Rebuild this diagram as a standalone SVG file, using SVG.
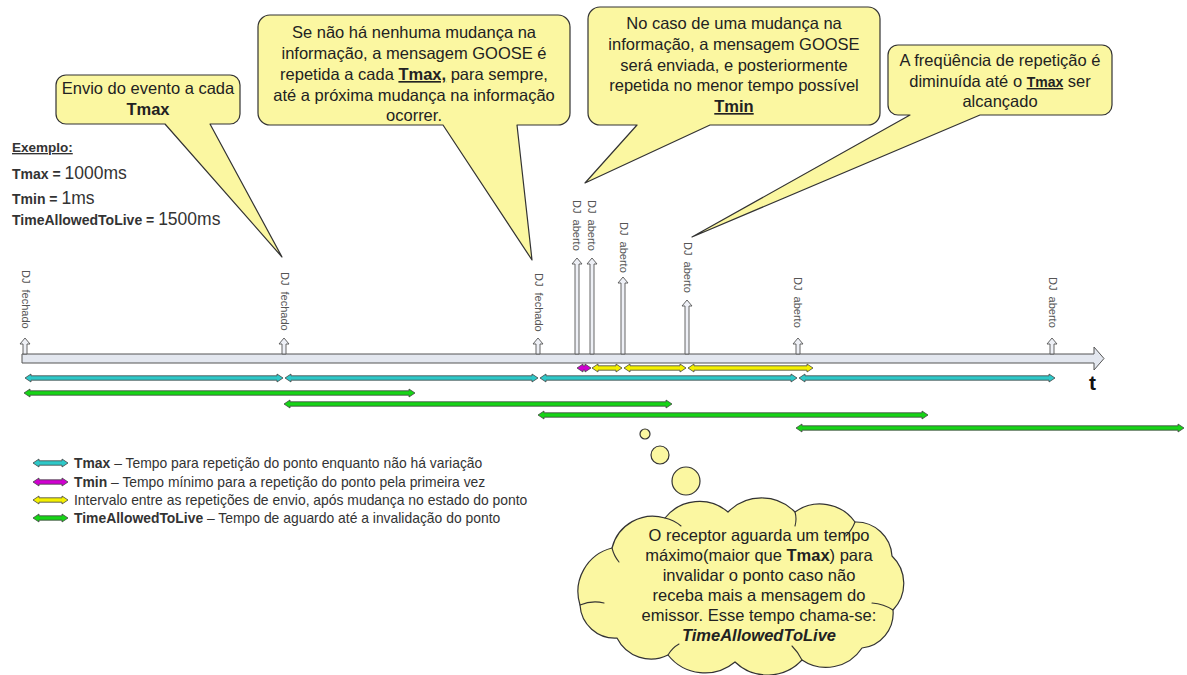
<svg xmlns="http://www.w3.org/2000/svg" width="1187" height="675" viewBox="0 0 1187 675">
  <style>
    text { font-family: "Liberation Sans", Arial, sans-serif; }
    .bubble { fill: #fbf7a1; stroke: #333; stroke-width: 1.2; stroke-linejoin: round; }
    .fold { fill: none; stroke: #333; stroke-width: 1.1; stroke-linecap: round; }
    .ct { font-size: 16.5px; fill: #222; text-anchor: middle; }
    .b { font-weight: bold; }
    .u { text-decoration: underline; }
    .ex { fill: #333; }
    .bar { fill: #e3e7ef; stroke: #555; stroke-width: 1; }
    .ev { fill: #eef0f6; stroke: #555; stroke-width: 0.9; }
    .lbl { font-size: 11px; fill: #555; }
    .iv { stroke: #444; stroke-width: 0.8; stroke-linejoin: round; }
    .cy { fill: #2ec8c8; }
    .mg { fill: #d000d0; }
    .ye { fill: #f4f000; }
    .gr { fill: #16d416; }
    .lg { font-size: 13.9px; fill: #333; }
  </style>

  <!-- speech callouts -->
  <g id="callout-tmax">
    <path class="bubble" d="M66,75 H230 A10,10 0 0 1 240,85 V114 A10,10 0 0 1 230,124 H210 L282,257 L165,124 H66 A10,10 0 0 1 56,114 V85 A10,10 0 0 1 66,75 Z"/>
    <text class="ct" x="148" y="94">Envio do evento a cada</text>
    <text class="ct b" x="148" y="115">Tmax</text>
  </g>

  <g id="callout-no-change">
    <path class="bubble" d="M270,15 H558 A12,12 0 0 1 570,27 V113 A12,12 0 0 1 558,125 H517 L532,260 L443,125 H270 A12,12 0 0 1 258,113 V27 A12,12 0 0 1 270,15 Z"/>
    <text class="ct" x="414" y="38">Se não há nenhuma mudança na</text>
    <text class="ct" x="414" y="59">informação, a mensagem GOOSE é</text>
    <text class="ct" x="414" y="80">repetida a cada <tspan class="b u">Tmax,</tspan> para sempre,</text>
    <text class="ct" x="414" y="101">até a próxima mudança na informação</text>
    <text class="ct" x="414" y="121">ocorrer.</text>
  </g>

  <g id="callout-change">
    <path class="bubble" d="M600,7 H868 A12,12 0 0 1 880,19 V113 A12,12 0 0 1 868,125 H710 L585,183 L637,125 H600 A12,12 0 0 1 588,113 V19 A12,12 0 0 1 600,7 Z"/>
    <text class="ct" x="734" y="29">No caso de uma mudança na</text>
    <text class="ct" x="734" y="50">informação, a mensagem GOOSE</text>
    <text class="ct" x="734" y="71">será enviada, e posteriormente</text>
    <text class="ct" x="734" y="91">repetida no menor tempo possível</text>
    <text class="ct b u" x="734" y="112">Tmin</text>
  </g>

  <g id="callout-frequency">
    <path class="bubble" d="M898,45 H1102 A10,10 0 0 1 1112,55 V105 A10,10 0 0 1 1102,115 H980 L692,237 L910,115 H898 A10,10 0 0 1 888,105 V55 A10,10 0 0 1 898,45 Z"/>
    <text class="ct" x="1000" y="66">A freqüência de repetição é</text>
    <text class="ct" x="1000" y="87">diminuída até o <tspan class="b u" font-size="14">Tmax</tspan> ser</text>
    <text class="ct" x="1000" y="107">alcançado</text>
  </g>

  <!-- example values -->
  <g id="example">
    <text class="ex b u" x="12" y="152" font-size="13.5">Exemplo:</text>
    <text class="ex" x="12" y="179"><tspan class="b" font-size="14">Tmax = </tspan><tspan font-size="17.5">1000ms</tspan></text>
    <text class="ex" x="12" y="204"><tspan class="b" font-size="14">Tmin = </tspan><tspan font-size="17.5">1ms</tspan></text>
    <text class="ex" x="12" y="225"><tspan class="b" font-size="14">TimeAllowedToLive = </tspan><tspan font-size="17.5">1500ms</tspan></text>
  </g>

  <!-- time axis -->
  <g id="timeline">
    <path class="bar" d="M22,354 H1094 V347 L1104,358.5 L1094,370 V363 H22 Z"/>
    <text x="1089" y="390" font-size="21" font-weight="bold" fill="#111">t</text>
  </g>

  <!-- GOOSE transmissions -->
  <g id="events">
    <path class="ev" d="M25,338 l5,6 h-3 V354 h-4 V344 h-3 z"/>
    <path class="ev" d="M284,338 l5,6 h-3 V354 h-4 V344 h-3 z"/>
    <path class="ev" d="M538,338 l5,6 h-3 V354 h-4 V344 h-3 z"/>
    <path class="ev" d="M577,258 l5,6 h-3 V354 h-4 V264 h-3 z"/>
    <path class="ev" d="M592,258 l5,6 h-3 V354 h-4 V264 h-3 z"/>
    <path class="ev" d="M623,277 l5,6 h-3 V354 h-4 V283 h-3 z"/>
    <path class="ev" d="M687,300 l5,6 h-3 V354 h-4 V306 h-3 z"/>
    <path class="ev" d="M798,338 l5,6 h-3 V354 h-4 V344 h-3 z"/>
    <path class="ev" d="M1052,338 l5,6 h-3 V354 h-4 V344 h-3 z"/>

    <text class="lbl" transform="translate(22,270) rotate(90)">DJ&#160; fechado</text>
    <text class="lbl" transform="translate(281,272) rotate(90)">DJ&#160; fechado</text>
    <text class="lbl" transform="translate(535,273) rotate(90)">DJ&#160; fechado</text>
    <text class="lbl" transform="translate(573,200) rotate(90)">DJ&#160; aberto</text>
    <text class="lbl" transform="translate(588,200) rotate(90)">DJ&#160; aberto</text>
    <text class="lbl" transform="translate(620,222) rotate(90)">DJ&#160; aberto</text>
    <text class="lbl" transform="translate(684,242) rotate(90)">DJ&#160; aberto</text>
    <text class="lbl" transform="translate(794,277) rotate(90)">DJ&#160; aberto</text>
    <text class="lbl" transform="translate(1049,277) rotate(90)">DJ&#160; aberto</text>
  </g>

  <!-- interval arrows -->
  <g id="intervals">
    <path class="iv cy" d="M25,378 l6,-4 v1.8 h246 v-1.8 l6,4 l-6,4 v-1.8 h-246 v1.8 z"/>
    <path class="iv cy" d="M285,378 l6,-4 v1.8 h241 v-1.8 l6,4 l-6,4 v-1.8 h-241 v1.8 z"/>
    <path class="iv cy" d="M540,378 l6,-4 v1.8 h245 v-1.8 l6,4 l-6,4 v-1.8 h-245 v1.8 z"/>
    <path class="iv cy" d="M799,378 l6,-4 v1.8 h244 v-1.8 l6,4 l-6,4 v-1.8 h-244 v1.8 z"/>

    <path class="iv mg" d="M577,368 l6,-4 v1.8 h2 v-1.8 l6,4 l-6,4 v-1.8 h-2 v1.8 z"/>
    <path class="iv ye" d="M592,368 l6,-4 v1.8 h18 v-1.8 l6,4 l-6,4 v-1.8 h-18 v1.8 z"/>
    <path class="iv ye" d="M624,368 l6,-4 v1.8 h50 v-1.8 l6,4 l-6,4 v-1.8 h-50 v1.8 z"/>
    <path class="iv ye" d="M688,368 l6,-4 v1.8 h113 v-1.8 l6,4 l-6,4 v-1.8 h-113 v1.8 z"/>

    <path class="iv gr" d="M24,393 l6,-4 v1.8 h379 v-1.8 l6,4 l-6,4 v-1.8 h-379 v1.8 z"/>
    <path class="iv gr" d="M284,404 l6,-4 v1.8 h376 v-1.8 l6,4 l-6,4 v-1.8 h-376 v1.8 z"/>
    <path class="iv gr" d="M538,415 l6,-4 v1.8 h378 v-1.8 l6,4 l-6,4 v-1.8 h-378 v1.8 z"/>
    <path class="iv gr" d="M796,428 l6,-4 v1.8 h376 v-1.8 l6,4 l-6,4 v-1.8 h-376 v1.8 z"/>
  </g>

  <!-- legend -->
  <g id="legend">
    <path class="iv cy" d="M33,463 l6,-4 v1.8 h23 v-1.8 l6,4 l-6,4 v-1.8 h-23 v1.8 z"/>
    <path class="iv mg" d="M33,482 l6,-4 v1.8 h23 v-1.8 l6,4 l-6,4 v-1.8 h-23 v1.8 z"/>
    <path class="iv ye" d="M33,500 l6,-4 v1.8 h23 v-1.8 l6,4 l-6,4 v-1.8 h-23 v1.8 z"/>
    <path class="iv gr" d="M33,518 l6,-4 v1.8 h23 v-1.8 l6,4 l-6,4 v-1.8 h-23 v1.8 z"/>
    <text class="lg" x="74" y="468"><tspan class="b">Tmax</tspan> – Tempo para repetição do ponto enquanto não há variação</text>
    <text class="lg" x="74" y="487"><tspan class="b">Tmin</tspan> – Tempo mínimo para a repetição do ponto pela primeira vez</text>
    <text class="lg" x="74" y="505">Intervalo entre as repetições de envio, após mudança no estado do ponto</text>
    <text class="lg" x="74" y="523"><tspan class="b">TimeAllowedToLive</tspan> – Tempo de aguardo até a invalidação do ponto</text>
  </g>

  <!-- receiver thought cloud -->
  <g id="cloud">
    <circle class="bubble" cx="645" cy="434" r="5"/>
    <circle class="bubble" cx="660" cy="455" r="9"/>
    <circle class="bubble" cx="686" cy="481" r="14"/>
    <path class="bubble" d="M580,605 A45,45 0 0 1 612,548 A42,42 0 0 1 665,518 A44,44 0 0 1 728,512 A47,47 0 0 1 795,512 A43,43 0 0 1 855,522 A36,36 0 0 1 892,556 A38,38 0 0 1 893,610 A35,35 0 0 1 862,648 A43,43 0 0 1 802,660 A47,47 0 0 1 735,662 A47,47 0 0 1 668,655 A38,38 0 0 1 617,638 A35,35 0 0 1 580,605 Z"/>
    <!-- inner lobe folds -->
    <path class="fold" d="M580,605 Q592,600 604,603"/>
    <path class="fold" d="M612,548 Q614,556 619,562"/>
    <path class="fold" d="M665,518 Q674,520 681,526"/>
    <path class="fold" d="M795,512 Q797,519 795,526"/>
    <path class="fold" d="M855,522 Q852,530 846,536"/>
    <path class="fold" d="M893,610 Q884,604 872,603"/>
    <path class="fold" d="M802,660 Q798,652 792,646"/>
    <path class="fold" d="M668,655 Q672,648 679,644"/>
    <text class="ct" font-size="17" x="759" y="541">O receptor aguarda um tempo</text>
    <text class="ct" font-size="17" x="759" y="561">máximo(maior que <tspan class="b">Tmax</tspan>) para</text>
    <text class="ct" font-size="17" x="759" y="581">invalidar o ponto caso não</text>
    <text class="ct" font-size="17" x="759" y="601">receba mais a mensagem do</text>
    <text class="ct" font-size="17" x="759" y="621">emissor. Esse tempo chama-se:</text>
    <text class="ct b" font-size="17" font-style="italic" x="759" y="641">TimeAllowedToLive</text>
  </g>
</svg>
